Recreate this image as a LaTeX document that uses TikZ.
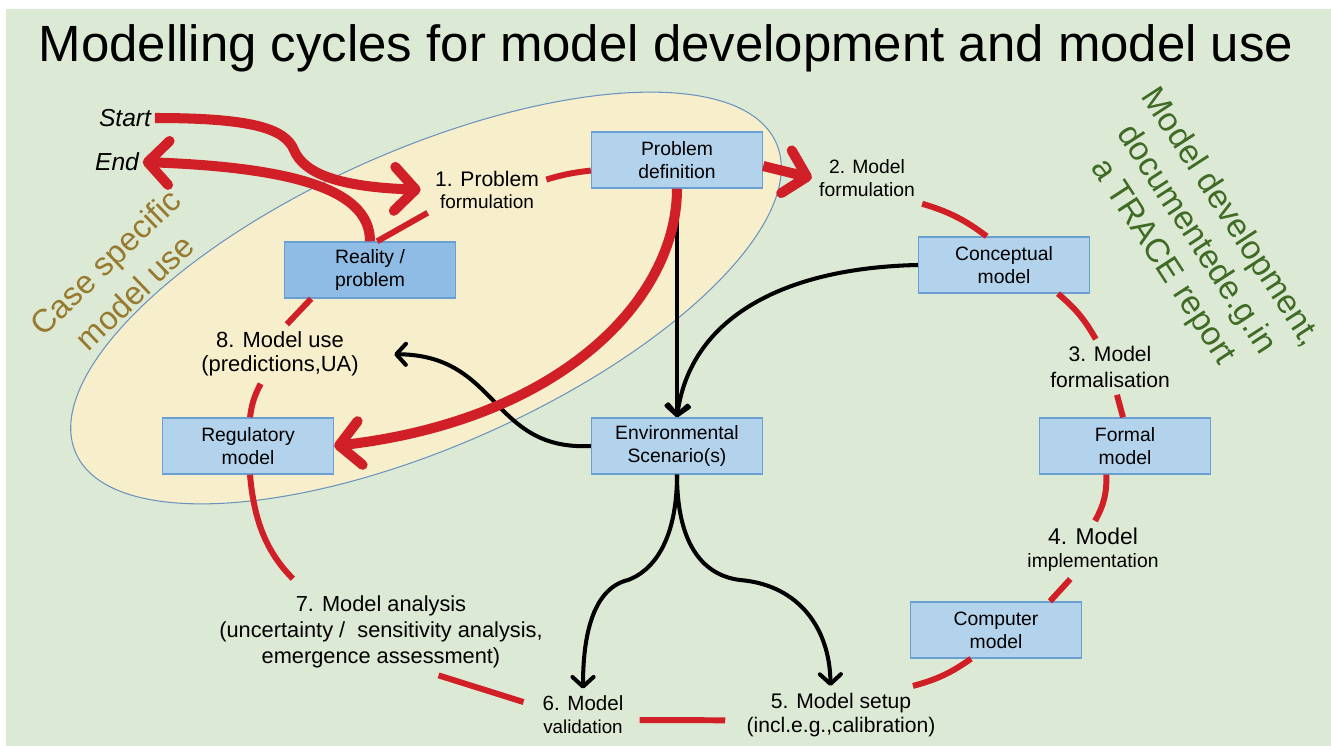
\documentclass[tikz,border=0pt]{standalone}
\usepackage{fontspec}
\setmainfont{Liberation Sans}
\usetikzlibrary{arrows.meta}
\definecolor{bggreen}{HTML}{DCEAD5}
\definecolor{ellfill}{HTML}{F7EECB}
\definecolor{ellline}{HTML}{6C93BE}
\definecolor{boxfill}{HTML}{B3D2EC}
\definecolor{boxline}{HTML}{6A9FD3}
\definecolor{boxdark}{HTML}{8EBCE4}
\definecolor{cycred}{HTML}{D01F27}
\definecolor{caseol}{HTML}{987A2E}
\definecolor{devgreen}{HTML}{3F6B25}

\begin{document}
\begin{tikzpicture}[x=0.02cm, y=0.02cm,
    every node/.style={font=\fontsize{11}{13}\selectfont},
    box/.style={draw=boxline, fill=boxfill, line width=0.8pt, minimum width=3.42cm, minimum height=1.12cm, align=center, inner sep=0pt},
    lab/.style={align=center, inner sep=4pt},
    cyc/.style={draw=cycred, line width=3.4pt},
    bigarr/.style={draw=cycred, line width=5.7pt, -{Straight Barb[length=12pt, width=25pt, round]}},
    blk/.style={draw=black, line width=2.3pt, -{Straight Barb[length=5.5pt, width=12pt, round]}}
]
\useasboundingbox (0,0) rectangle (1331,-746);
\fill[bggreen] (6,-9) rectangle (1331,-746);

% case specific area
\draw[ellline, fill=ellfill, line width=0.6pt, shift={(426,-298)}, rotate=23.9] (0,0) ellipse [x radius=383, y radius=148];

\node[font=\fontsize{29}{34}\selectfont, anchor=base] (title) at (666,-62) {Modelling cycles for model development and model use};

% boxes
\node[box] (pdef) at (677,-160) {Problem\\definition};
\node[box, fill=boxdark] (real) at (370,-270) {Reality /\\problem};
\node[box] (concept) at (1004,-265) {Conceptual\\model};
\node[box] (formal) at (1125,-446) {Formal\\model};
\node[box] (comp) at (996,-630) {Computer\\model};
\node[box] (env) at (677,-446) {Environmental\\Scenario(s)};
\node[box] (reg) at (248,-446) {Regulatory\\model};

% step labels
\node[lab] (lab1) at (487,-190) {{\fontsize{12}{14}\selectfont 1. Problem}\\{\fontsize{10.8}{13}\selectfont formulation}};
\node[lab] (lab2) at (867,-178) {2. Model\\formulation};
\node[lab, font=\fontsize{12}{14.5}\selectfont] (lab3) at (1110,-367) {3. Model\\formalisation};
\node[lab] (lab4) at (1093,-550) {{\fontsize{13}{14}\selectfont 4. Model}\\{\fontsize{11}{13}\selectfont implementation}};
\node[lab, font=\fontsize{12}{13.5}\selectfont] (lab5) at (841,-715) {5. Model setup\\(incl.e.g.,calibration)};
\node[lab] (lab6) at (583,-715) {{\fontsize{11.7}{14}\selectfont 6. Model}\\{\fontsize{10.7}{13}\selectfont validation}};
\node[lab, font=\fontsize{12.4}{14.7}\selectfont] (lab7) at (381,-632) {7. Model analysis\\(uncertainty / \ sensitivity analysis,\\emergence assessment)};
\node[lab, font=\fontsize{12.5}{13.8}\selectfont] (lab8) at (280,-354) {8. Model use\\(predictions,UA)};

\node[font=\fontsize{14}{16}\selectfont\itshape, inner sep=2pt] (start) at (125,-118) {Start};
\node[font=\fontsize{14}{16}\selectfont\itshape, inner sep=2pt] (end) at (117,-162) {End};

\node[rotate=44, text=caseol, align=center, font=\fontsize{18.5}{24}\selectfont] (casetxt) at (120,-277) {Case specific\\model use};
\node[rotate=-57, text=devgreen, align=center, font=\fontsize{19}{23}\selectfont] (devtxt) at (1196,-240) {Model development,\\documentede.g.in\\a TRACE report};

% black arrows
\draw[blk] (pdef.south) -- (env.north);
\draw[blk] (concept.west) .. controls (780,-268) and (690,-320) .. (env.north);
\draw[blk, shorten >=16pt] (env.west) .. controls (490,-451) and (500,-355) .. (lab8.east);
\draw[blk] (env.south) .. controls (677,-545) and (650,-572) .. (628,-580) .. controls (595,-588) and (583,-630) .. (lab6.north);
\draw[blk] (env.south) .. controls (677,-540) and (700,-575) .. (740,-580) .. controls (800,-585) and (830,-630) .. ([xshift=-6pt]lab5.north);

% modelling cycle
\draw[cyc] (lab1.10) to[bend left=5] (pdef.187);
\draw[bigarr] (pdef.-4) -- (lab2.west);
\draw[cyc] (lab2.-25) to[bend left=10] (concept.121);
\draw[cyc] (concept.-28) to[bend left=10] (lab3.117);
\draw[cyc] (lab3.-76) -- (formal.94);
\draw[cyc] (formal.-123) to[bend left=15] (lab4.86);
\draw[cyc] (lab4.-128) -- (comp.28);
\draw[cyc] (comp.-131) to[bend left=10] (lab5.22);
\draw[cyc, shorten <=8pt, shorten >=5pt] (lab5.183) -- (lab6.-6);
\draw[cyc, shorten <=7pt] (lab6.169) -- (lab7.-37);
\draw[cyc, shorten <=8pt] (lab7.151) to[bend left=20] (reg.-86);
\draw[cyc] (reg.86) to[bend left=10] (lab8.-123);
\draw[cyc] (lab8.77) -- (real.-154);
\draw[cyc] (real.76) -- (lab1.-159);

% start, end and use
\draw[bigarr, shorten >=4pt] (start.east) .. controls (250,-118) and (285,-128) .. (294,-150) .. controls (304,-174) and (340,-187) .. (lab1.west);
\draw[bigarr] (real.north) .. controls (370,-195) and (310,-168) .. (end.east);
\draw[bigarr] (pdef.south) .. controls (677,-300) and (560,-420) .. (reg.east);
\end{tikzpicture}
\end{document}
